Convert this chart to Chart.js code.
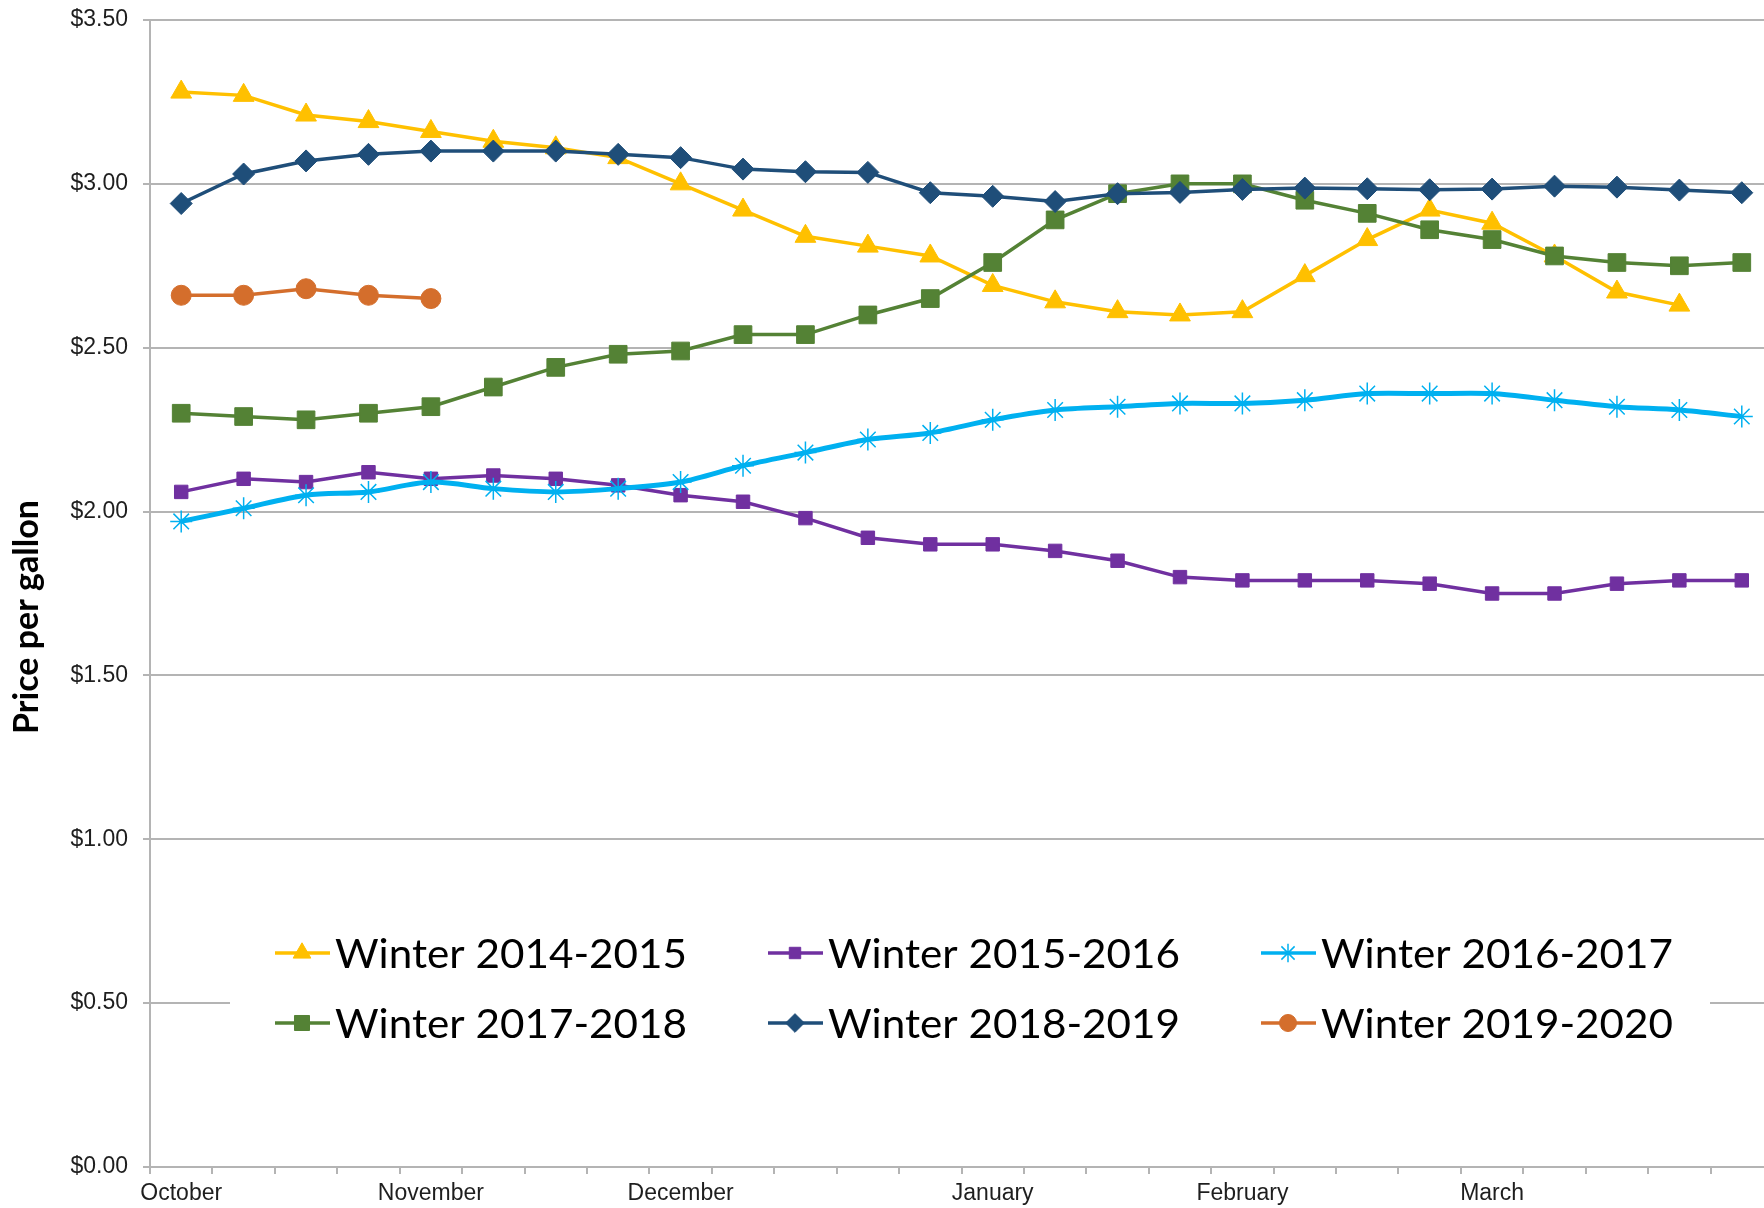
<!DOCTYPE html>
<html>
<head>
<meta charset="utf-8">
<script src="https://cdn.jsdelivr.net/npm/chart.js@4/dist/chart.umd.min.js"></script>
<style>
  html, body { margin: 0; padding: 0; background: #fff; overflow: hidden; }
  #wrap { width: 1773px; height: 1208px; }
</style>
</head>
<body>
<div id="wrap"><canvas id="chart" width="1773" height="1208"></canvas></div>
<script>
// weekly retail prices, first week of October through end of March
const weekLabels = ['October', '', '', '', 'November', '', '', '', 'December', '', '', '', '',
  'January', '', '', '', 'February', '', '', '', 'March', '', '', '', ''];

const winter1415 = [3.28, 3.27, 3.21, 3.19, 3.16, 3.13, 3.11, 3.08, 3.00, 2.92, 2.84, 2.81, 2.78,
  2.69, 2.64, 2.61, 2.60, 2.61, 2.72, 2.83, 2.92, 2.88, 2.78, 2.67, 2.63, null];
const winter1516 = [2.06, 2.10, 2.09, 2.12, 2.10, 2.11, 2.10, 2.08, 2.05, 2.03, 1.98, 1.92, 1.90,
  1.90, 1.88, 1.85, 1.80, 1.79, 1.79, 1.79, 1.78, 1.75, 1.75, 1.78, 1.79, 1.79];
const winter1617 = [1.97, 2.01, 2.05, 2.06, 2.09, 2.07, 2.06, 2.07, 2.09, 2.14, 2.18, 2.22, 2.24,
  2.28, 2.31, 2.32, 2.33, 2.33, 2.34, 2.36, 2.36, 2.36, 2.34, 2.32, 2.31, 2.29];
const winter1718 = [2.30, 2.29, 2.28, 2.30, 2.32, 2.38, 2.44, 2.48, 2.49, 2.54, 2.54, 2.60, 2.65,
  2.76, 2.89, 2.97, 3.00, 3.00, 2.95, 2.91, 2.86, 2.83, 2.78, 2.76, 2.75, 2.76];
const winter1819 = [2.94, 3.03, 3.07, 3.09, 3.10, 3.10, 3.10, 3.09, 3.08, 3.045, 3.037, 3.035, 2.973,
  2.962, 2.946, 2.97, 2.974, 2.983, 2.987, 2.985, 2.982, 2.984, 2.993, 2.99, 2.981, 2.973];
const winter1920 = [2.66, 2.66, 2.68, 2.66, 2.65];

const GRID = '#b4b4b4';
const TEXT = '#1e1e1e';

function series(label, data, color, style, radius, width, tension) {
  return {
    label: label,
    data: data,
    borderColor: color,
    backgroundColor: color,
    pointStyle: style,
    pointRadius: radius,
    pointHoverRadius: radius,
    pointBorderWidth: style === 'star' ? 1.5 : 1,
    borderWidth: width,
    tension: tension || 0,
    spanGaps: false,
  };
}

const datasets = [
  series('Winter 2014-2015', winter1415, '#ffc000', 'triangle', 12, 3.5),
  series('Winter 2015-2016', winter1516, '#7030a0', 'rect', 9.5, 3.5),
  series('Winter 2016-2017', winter1617, '#00b0f0', 'star', 11, 5, 0.3),
  series('Winter 2017-2018', winter1718, '#548235', 'rect', 12.5, 3.5),
  series('Winter 2018-2019', winter1819, '#1f4e79', 'rectRot', 11, 3.5),
  series('Winter 2019-2020', winter1920, '#d46e2c', 'circle', 10, 3.5),
];
// later winters sit on top, as in the spreadsheet
datasets.forEach((d, i) => { d.order = -i; });

function marker(ctx, style, r, x, y) {
  if (Chart.helpers && Chart.helpers.drawPoint) {
    Chart.helpers.drawPoint(ctx, { pointStyle: style, radius: r, rotation: 0, borderWidth: ctx.lineWidth }, x, y);
    return;
  }
  ctx.beginPath();
  ctx.arc(x, y, r, 0, Math.PI * 2);
  ctx.fill();
}

// axis title and spreadsheet style legend (two rows of three, on a white box)
const extras = {
  id: 'extras',
  afterDraw(chart) {
    const ctx = chart.ctx;
    const area = chart.chartArea;
    ctx.save();

    ctx.save();
    ctx.translate(27, 617);
    ctx.rotate(-Math.PI / 2);
    ctx.font = 'bold 34px Lato';
    ctx.fillStyle = '#000';
    ctx.textAlign = 'center';
    ctx.textBaseline = 'middle';
    ctx.fillText('Price per gallon', 0, 0);
    ctx.restore();

    ctx.fillStyle = '#fff';
    ctx.fillRect(area.left + 80, 905, 1480, 170);

    ctx.font = '41px Lato';
    const stretch = 352 / ctx.measureText('Winter 2014-2015').width;

    chart.data.datasets.forEach((ds, i) => {
      const x0 = area.left + 125 + (i % 3) * 493;
      const base = 968 + Math.floor(i / 3) * 70;
      const mid = base - 15;
      ctx.strokeStyle = ds.borderColor;
      ctx.fillStyle = ds.backgroundColor;
      ctx.lineWidth = 3.5;
      ctx.beginPath();
      ctx.moveTo(x0, mid);
      ctx.lineTo(x0 + 55, mid);
      ctx.stroke();
      ctx.lineWidth = ds.pointBorderWidth;
      marker(ctx, ds.pointStyle, ds.pointRadius * 0.85, x0 + 27, mid);

      ctx.save();
      ctx.fillStyle = '#000';
      ctx.textBaseline = 'alphabetic';
      ctx.translate(x0 + 60, base);
      ctx.scale(stretch, 1);
      ctx.fillText(ds.label, 0, 0);
      ctx.restore();
    });
    ctx.restore();
  }
};

new Chart(document.getElementById('chart'), {
  type: 'line',
  data: { labels: weekLabels, datasets: datasets },
  options: {
    responsive: false,
    animation: false,
    layout: { autoPadding: false, padding: { top: 20, right: 0, bottom: 0, left: 0 } },
    plugins: {
      legend: { display: false },
      tooltip: { enabled: false },
    },
    scales: {
      x: {
        type: 'category',
        offset: true,
        grid: {
          display: true,
          offset: true,
          drawOnChartArea: false,
          drawTicks: true,
          tickLength: 7,
          color: GRID,
          lineWidth: 2,
        },
        border: { display: true, color: GRID, width: 2 },
        ticks: {
          autoSkip: false,
          maxRotation: 0,
          padding: 6,
          color: TEXT,
          font: { family: 'Liberation Sans', size: 23 },
        },
        afterFit(scale) {
          scale.height = 41;
          scale.paddingLeft = 0;
          scale.paddingRight = 0;
        },
      },
      y: {
        min: 0,
        max: 3.5,
        grid: {
          color: GRID,
          lineWidth: 2,
          drawTicks: true,
          tickLength: 7,
        },
        border: { display: true, color: GRID, width: 2 },
        ticks: {
          stepSize: 0.5,
          padding: 15,
          color: TEXT,
          font: { family: 'Liberation Sans', size: 23 },
          callback: (v) => '$' + Number(v).toFixed(2),
        },
        afterFit(scale) {
          scale.width = 150;
          scale.paddingTop = 0;
          scale.paddingBottom = 0;
        },
      },
    },
  },
  plugins: [extras],
});
</script>
</body>
</html>
